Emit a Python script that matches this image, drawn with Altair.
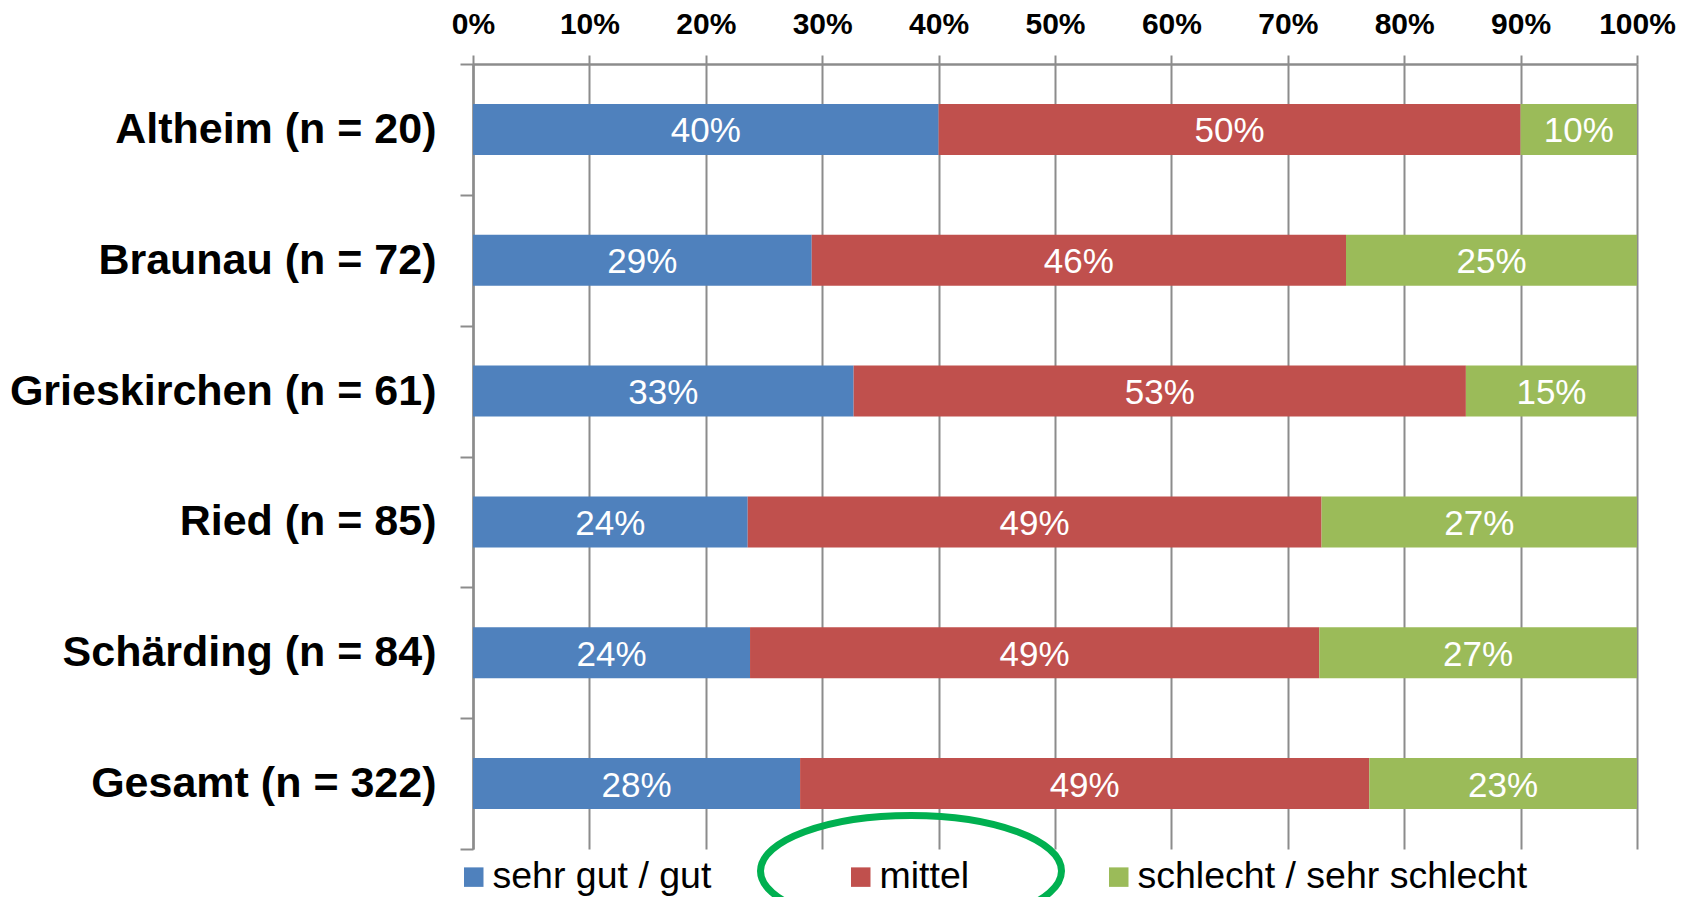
import altair as alt
import pandas as pd

regions = ["Altheim (n = 20)", "Braunau (n = 72)", "Grieskirchen (n = 61)",
           "Ried (n = 85)", "Schärding (n = 84)", "Gesamt (n = 322)"]
categories = ["sehr gut / gut", "mittel", "schlecht / sehr schlecht"]
sehr_gut = [40.0, 29.1, 32.7, 23.6, 23.8, 28.1]
mittel = [50.0, 45.9, 52.6, 49.3, 48.9, 48.9]
schlecht = [10.0, 25.0, 14.7, 27.1, 27.3, 23.0]
colors = ["#4F81BD", "#C0504D", "#9BBB59"]
x_ticks = [0, 10, 20, 30, 40, 50, 60, 70, 80, 90, 100]

rows = []
for i, r in enumerate(regions):
    for j, (c, series) in enumerate(zip(categories, [sehr_gut, mittel, schlecht])):
        rows.append({"region": r, "cat": c, "idx": j, "value": series[i]})
df = pd.DataFrame(rows)

FONT = "Liberation Sans"
GRAY = "#8C8C8C"

y_enc = alt.Y("region:N", sort=regions,
              scale=alt.Scale(domain=regions, paddingInner=0, paddingOuter=0),
              axis=alt.Axis(title=None, orient="left", tickBand="extent", tickSize=13,
                            tickColor=GRAY, tickWidth=2, domainColor=GRAY, domainWidth=2.5,
                            labelFont=FONT, labelFontSize=43, labelFontWeight="bold",
                            labelColor="black", labelPadding=24, labelLimit=700, grid=False))

base = alt.Chart(df)

bars = base.mark_bar(size=51).encode(
    x=alt.X("value:Q", stack="zero",
            scale=alt.Scale(domain=[0, 100], nice=False, zero=True),
            axis=alt.Axis(title=None, orient="top", values=x_ticks,
                          labelExpr="datum.value + '%'", labelFlush=False,
                          labelFont=FONT, labelFontSize=30, labelFontWeight="bold",
                          labelColor="black", labelPadding=16, tickSize=9,
                          tickColor=GRAY, tickWidth=2, domainColor=GRAY, domainWidth=2.5,
                          grid=True, gridColor=GRAY, gridWidth=2)),
    y=y_enc,
    color=alt.Color("cat:N", scale=alt.Scale(domain=categories, range=colors),
                    legend=alt.Legend(title=None, orient="none", direction="horizontal",
                                      legendX=-18, legendY=794, symbolType="square",
                                      symbolSize=380, symbolStrokeWidth=0,
                                      labelFont=FONT, labelFontSize=37.5, labelColor="black",
                                      labelOffset=0, columnPadding=130, padding=0,
                                      labelLimit=600)),
    order=alt.Order("idx:Q", sort="ascending"),
)

labels = base.transform_stack(
    stack="value", groupby=["region"], sort=[alt.SortField("idx", order="ascending")],
    as_=["x0", "x1"]
).transform_calculate(
    mid="(datum.x0 + datum.x1) / 2",
    label="round(datum.value) + '%'"
).mark_text(color="white", font=FONT, fontSize=35, align="center", baseline="middle",
            dy=2).encode(
    x=alt.X("mid:Q"),
    y=alt.Y("region:N", sort=regions),
    text="label:N",
)

ellipse_path = ("M 1 0 C 1 0.204 0.5523 0.369 0 0.369 C -0.5523 0.369 -1 0.204 -1 0 "
                "C -1 -0.204 -0.5523 -0.369 0 -0.369 C 0.5523 -0.369 1 -0.204 1 0 Z")
ellipse = alt.Chart(pd.DataFrame({"a": [0]})).mark_point(
    shape=ellipse_path, filled=False, stroke="#00B050", strokeWidth=7, opacity=1
).encode(x=alt.value(438), y=alt.value(807), size=alt.value(90601))

chart = alt.layer(bars, labels, ellipse).properties(
    width=1164, height=785,
    autosize=alt.AutoSizeParams(type="none"),
    padding={"left": 473, "top": 64, "right": 49, "bottom": 48},
    background="white",
).configure_view(stroke=None)

chart.save("out.html", embed_options={"renderer": "svg", "actions": False})
